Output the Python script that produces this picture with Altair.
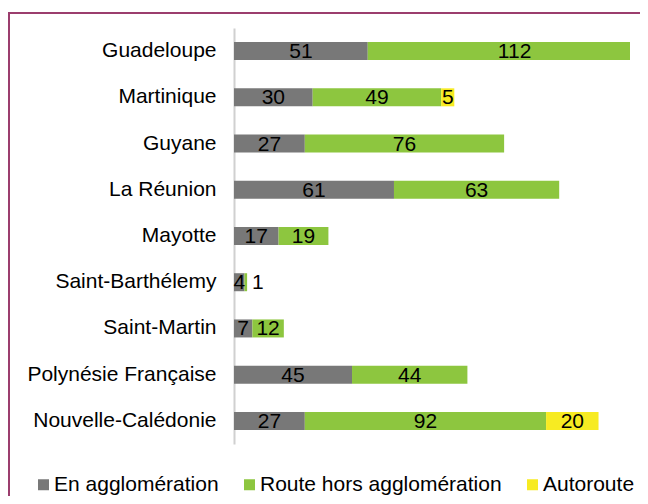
import altair as alt
import pandas as pd

territories = ["Guadeloupe", "Martinique", "Guyane", "La Réunion", "Mayotte",
               "Saint-Barthélemy", "Saint-Martin", "Polynésie Française",
               "Nouvelle-Calédonie"]
series = ["En agglomération", "Route hors agglomération", "Autoroute"]
en_agglo = [51, 30, 27, 61, 17, 4, 7, 45, 27]
route_hors = [112, 49, 76, 63, 19, 1, 12, 44, 92]
autoroute = [0, 5, 0, 0, 0, 0, 0, 0, 20]
colors = ["#787878", "#8dc63f", "#f7eb22"]

rows = []
for i, t in enumerate(territories):
    for k, vals in enumerate([en_agglo, route_hors, autoroute]):
        if vals[i] > 0:
            rows.append({"territory": t, "serie": series[k], "k": k, "value": vals[i]})
df = pd.DataFrame(rows)

FONT = "Liberation Sans"
FS = 21

base = alt.Chart(df).transform_stack(
    stack="value", groupby=["territory"], as_=["v0", "v1"],
    sort=[alt.SortField("k", order="ascending")]
).transform_calculate(mid="(datum.v0 + datum.v1) / 2")

xscale = alt.Scale(domain=[0, 151], clamp=True, nice=False, zero=True)
yenc = alt.Y("territory:N", sort=territories, title=None,
             scale=alt.Scale(paddingInner=0.61, paddingOuter=0.305),
             axis=alt.Axis(ticks=False, labelFontSize=FS, labelFont=FONT,
                           labelFontWeight="normal",
                           labelColor="#000000", labelPadding=18,
                           domainColor="#d0d0d0", domainWidth=2, labelLimit=300))

bars = base.mark_bar(size=18).encode(
    x=alt.X("v0:Q", scale=xscale, axis=None),
    x2="v1:Q",
    y=yenc,
    color=alt.Color("serie:N", scale=alt.Scale(domain=series, range=colors),
                    legend=alt.Legend(title=None, orient="none", direction="horizontal",
                                      legendX=-201, legendY=446,
                                      symbolType="square", symbolSize=121,
                                      symbolStrokeWidth=0, labelFontSize=FS,
                                      labelFont=FONT, labelColor="#000000",
                                      labelOffset=0, columnPadding=20,
                                      labelLimit=400)),
)

labels = base.transform_filter("datum.value >= 2").mark_text(
    fontSize=FS, font=FONT, color="#000000", baseline="middle", align="center", dy=1
).encode(
    x=alt.X("mid:Q", scale=xscale, axis=None),
    y=alt.Y("territory:N", sort=territories),
    text="value:Q",
)

small = base.transform_filter("datum.value < 2").mark_text(
    fontSize=FS, font=FONT, color="#000000", baseline="middle", align="left", dx=5, dy=1
).encode(
    x=alt.X("v1:Q", scale=xscale, axis=None),
    y=alt.Y("territory:N", sort=territories),
    text="value:Q",
)

frame = alt.Chart(df).mark_rect(fill=None, stroke="#9b3d6d", strokeWidth=2).encode(
    x=alt.value(-225), x2=alt.value(900), y=alt.value(-15), y2=alt.value(900)
)

chart = alt.layer(frame, bars, labels, small).properties(
    width=396, height=416,
    autosize=alt.AutoSizeParams(type="none"),
    padding={"left": 226, "top": 20, "right": 10, "bottom": 52},
).configure_view(stroke=None)

chart.save("out.html", embed_options={"renderer": "svg", "actions": False})
